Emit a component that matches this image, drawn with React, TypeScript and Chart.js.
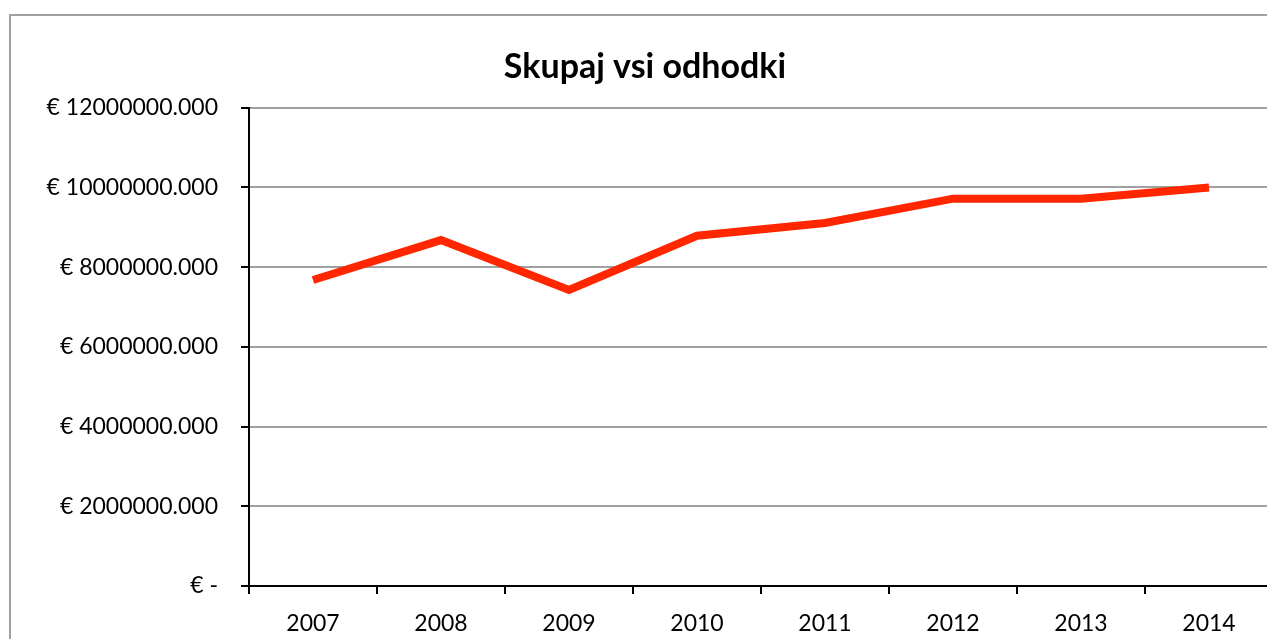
import React, { useEffect, useRef } from "react";
import { Chart, registerables } from "chart.js";

Chart.register(...registerables);

const TITLE = "Skupaj vsi odhodki";
const YEARS = ["2007", "2008", "2009", "2010", "2011", "2012", "2013", "2014"];
const EXPENSES = [7680000, 8680000, 7430000, 8790000, 9110000, 9720000, 9720000, 10000000];
const Y_MIN = 0;
const Y_MAX = 12000000;
const Y_STEP = 2000000;

const FONT = "Lato, 'Open Sans', 'Liberation Sans', sans-serif";
const CANVAS_W = 1280;
const CANVAS_H = 660;

const framePlugin = {
  id: "frame",
  beforeDraw(chart: any) {
    const ctx = chart.ctx;
    ctx.save();
    ctx.fillStyle = "#ffffff";
    ctx.fillRect(0, 0, chart.width, chart.height);
    ctx.strokeStyle = "#a0a0a0";
    ctx.lineWidth = 2;
    ctx.beginPath();
    ctx.moveTo(2, chart.height);
    ctx.lineTo(2, 7);
    ctx.lineTo(chart.width, 7);
    ctx.stroke();
    ctx.restore();
  },
};

export default function App() {
  const ref = useRef<HTMLCanvasElement | null>(null);

  useEffect(() => {
    if (!ref.current) return;
    const chart = new Chart(ref.current, {
      type: "line",
      data: {
        labels: YEARS,
        datasets: [
          {
            label: TITLE,
            data: EXPENSES,
            borderColor: "#ff2600",
            backgroundColor: "#ff2600",
            borderWidth: 8,
            pointRadius: 0,
            pointHoverRadius: 0,
            tension: 0,
            borderJoinStyle: "miter",
            borderCapStyle: "butt",
          },
        ],
      },
      options: {
        animation: false,
        responsive: false,
        maintainAspectRatio: false,
        events: [],
        layout: { padding: { left: 9, right: 15, top: 7, bottom: 22 } },
        plugins: {
          legend: { display: false },
          tooltip: { enabled: false },
          title: {
            display: true,
            text: TITLE,
            color: "#000000",
            font: { family: FONT, size: 34, weight: "bold" },
            padding: { top: 32, bottom: 20 },
          },
        },
        scales: {
          x: {
            type: "category",
            offset: true,
            afterFit(scale: any) {
              scale.height = 60;
            },
            grid: {
              display: true,
              drawOnChartArea: false,
              drawTicks: true,
              tickLength: 8,
              tickColor: "#000000",
              lineWidth: 2,
              offset: true,
            },
            border: { display: true, color: "#000000", width: 2 },
            ticks: {
              color: "#000000",
              font: { family: FONT, size: 23 },
              padding: 16,
              maxRotation: 0,
              autoSkip: false,
            },
          },
          y: {
            min: Y_MIN,
            max: Y_MAX,
            afterFit(scale: any) {
              scale.width = 232;
            },
            grid: {
              color: "#a0a0a0",
              lineWidth: 2,
              tickColor: "#000000",
              tickLength: 8,
              drawTicks: true,
            },
            border: { display: true, color: "#000000", width: 2 },
            ticks: {
              stepSize: Y_STEP,
              color: "#000000",
              font: { family: FONT, size: 23 },
              padding: 23,
              callback: (v: any) => (Number(v) === 0 ? "€ -" : "€ " + Number(v).toFixed(3)),
            },
          },
        },
      },
      plugins: [framePlugin],
    });
    return () => chart.destroy();
  }, []);

  return (
    <div style={{ position: "fixed", left: 0, top: 0, width: "100vw", height: "100vh", overflow: "hidden" }}>
      <canvas
        ref={ref}
        width={CANVAS_W}
        height={CANVAS_H}
        style={{ display: "block", position: "absolute", left: 8, top: 8, width: CANVAS_W, height: CANVAS_H }}
      />
    </div>
  );
}
